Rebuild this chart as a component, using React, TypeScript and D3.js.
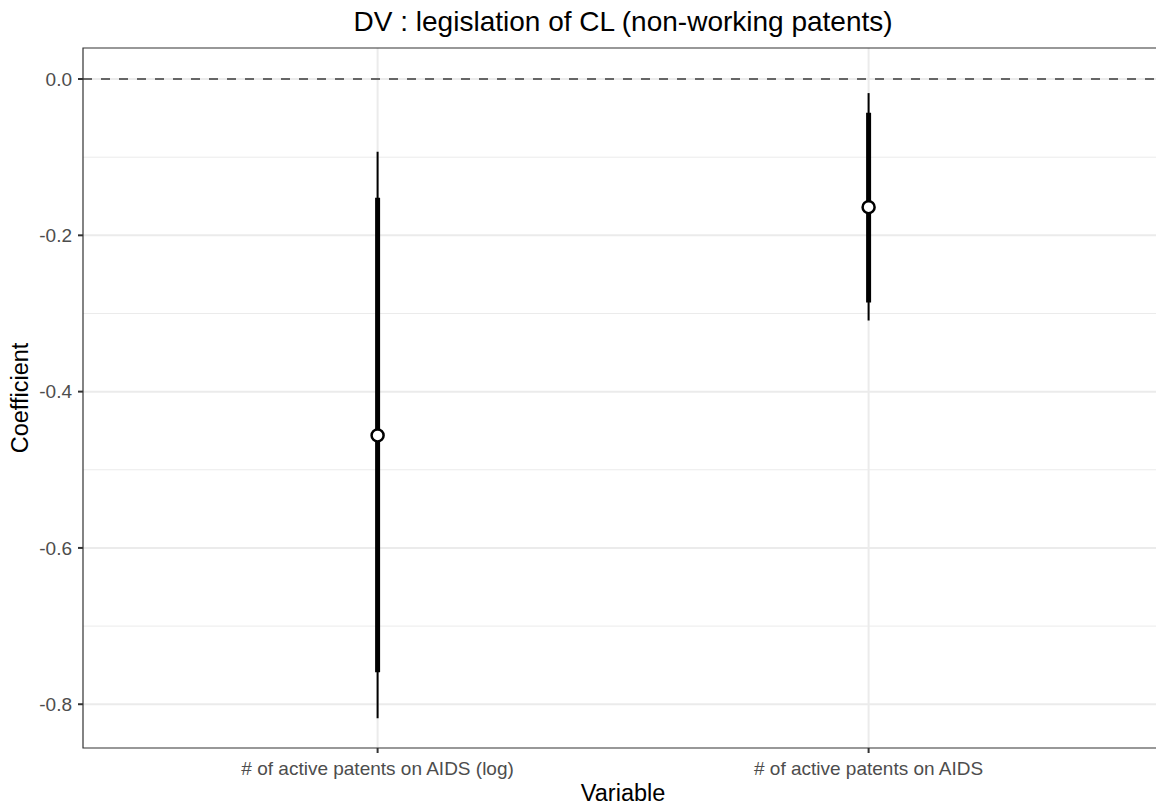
import React from "react";
import * as d3 from "d3";

const categories = ["# of active patents on AIDS (log)", "# of active patents on AIDS"];
const estimates = [-0.456, -0.164];
const ciInnerLow = [-0.759, -0.286];
const ciInnerHigh = [-0.152, -0.043];
const ciOuterLow = [-0.818, -0.309];
const ciOuterHigh = [-0.093, -0.018];
const yTicks = [0, -0.2, -0.4, -0.6, -0.8];
const yMinor = [-0.1, -0.3, -0.5, -0.7];

const W = 1156, H = 806;
const left = 83, top = 48, bottom = 748;
const catStep = 491;
const right = left + catStep * 2.2;
const drawRight = Math.min(right, W);

export default function App() {
  const x = d3.scalePoint<string>().domain(categories).range([left + 0.6 * catStep, right - 0.6 * catStep]);
  const y = d3.scaleLinear().domain([-0.856, 0.0397]).range([bottom, top]);
  const fmt = (v: number) => d3.format(".1f")(v).replace("\u2212", "-");
  const font = "Helvetica, Arial, 'Liberation Sans', sans-serif";
  const cx = (left + right) / 2;
  return (
    <svg width={W} height={H} viewBox={`0 0 ${W} ${H}`} style={{ position: "absolute", left: 0, top: 0, background: "#fff", overflow: "hidden", display: "block" }} fontFamily={font}>
      {yMinor.map((v) => (
        <line key={"mi" + v} x1={left} x2={drawRight} y1={y(v)} y2={y(v)} stroke="#ebebeb" strokeWidth={1} />
      ))}
      {yTicks.map((v) => (
        <line key={"ma" + v} x1={left} x2={drawRight} y1={y(v)} y2={y(v)} stroke="#ebebeb" strokeWidth={2} />
      ))}
      {categories.map((c) => (
        <line key={"vx" + c} x1={x(c)} x2={x(c)} y1={top} y2={bottom} stroke="#ebebeb" strokeWidth={2} />
      ))}
      <line x1={left} x2={drawRight} y1={y(0)} y2={y(0)} stroke="#666" strokeWidth={2} strokeDasharray="9,9" />
      {categories.map((c, i) => (
        <g key={"e" + c}>
          <line x1={x(c)} x2={x(c)} y1={y(ciOuterLow[i])} y2={y(ciOuterHigh[i])} stroke="#000" strokeWidth={2} />
          <line x1={x(c)} x2={x(c)} y1={y(ciInnerLow[i])} y2={y(ciInnerHigh[i])} stroke="#000" strokeWidth={5} />
          <circle cx={x(c)} cy={y(estimates[i])} r={6} fill="#fff" stroke="#000" strokeWidth={2.5} />
        </g>
      ))}
      <path d={`M${drawRight},${top}H${left}V${bottom}H${drawRight}`} fill="none" stroke="#333" strokeWidth={1.2} />
      {yTicks.map((v) => (
        <g key={"t" + v}>
          <line x1={left - 5} x2={left} y1={y(v)} y2={y(v)} stroke="#333" strokeWidth={2} />
          <text x={left - 11} y={y(v)} dy="0.36em" textAnchor="end" fontSize={19} fill="#4d4d4d">{fmt(v)}</text>
        </g>
      ))}
      {categories.map((c) => (
        <g key={"xt" + c}>
          <line x1={x(c)} x2={x(c)} y1={bottom} y2={bottom + 5} stroke="#333" strokeWidth={2} />
          <text x={x(c)} y={775} textAnchor="middle" fontSize={19} fill="#4d4d4d">{c}</text>
        </g>
      ))}
      <text x={cx} y={801} textAnchor="middle" fontSize={23.5} fill="#000">Variable</text>
      <text transform={`translate(28,${(top + bottom) / 2}) rotate(-90)`} textAnchor="middle" fontSize={23.5} fill="#000">Coefficient</text>
      <text x={cx} y={31} textAnchor="middle" fontSize={28} fill="#000">DV : legislation of CL (non-working patents)</text>
    </svg>
  );
}
